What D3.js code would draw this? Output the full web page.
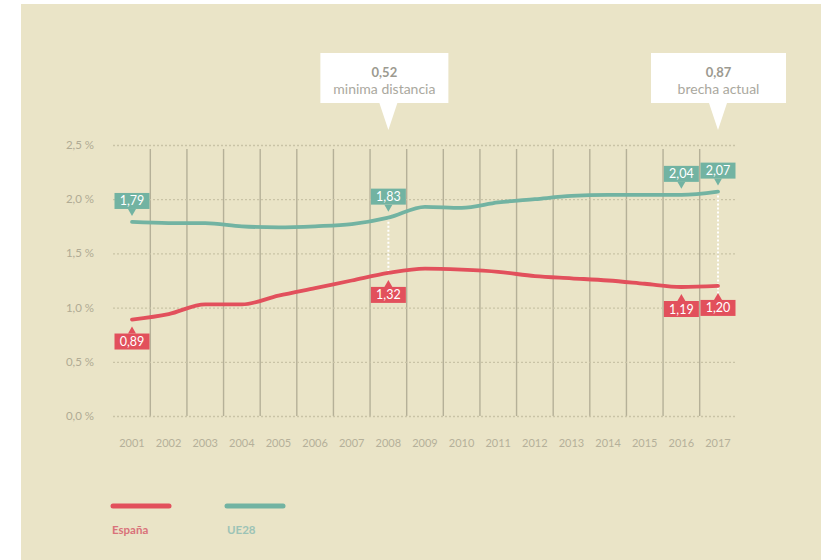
<!DOCTYPE html>
<html><head><meta charset="utf-8">
<script src="https://cdn.jsdelivr.net/npm/d3@7"></script>
<style>html,body{margin:0;padding:0;background:#fff;}svg{display:block;}</style>
</head><body>
<svg id="c" width="821" height="560"></svg>
<script>
const years = [2001,2002,2003,2004,2005,2006,2007,2008,2009,2010,2011,2012,2013,2014,2015,2016,2017];
const espana = [0.89,0.94,1.03,1.03,1.11,1.18,1.25,1.32,1.36,1.35,1.33,1.29,1.27,1.25,1.22,1.19,1.20];
const ue28 = [1.79,1.78,1.78,1.75,1.74,1.75,1.77,1.83,1.93,1.92,1.97,2.00,2.03,2.04,2.04,2.04,2.07];
const yTicks = [0,0.5,1.0,1.5,2.0,2.5];
const labelYears = [2001,2008,2016,2017];
const callouts = [{year:2008, value:"0,52", text:"minima distancia"},{year:2017, value:"0,87", text:"brecha actual"}];
const gapYears = [2008,2017];
const legendItems = ["España","UE28"];

const RED = "#e2505c", TEAL = "#72b3a2";
const svg = d3.select("#c");
svg.append("rect").attr("x",21).attr("y",4).attr("width",800).attr("height",556).attr("fill","#eae4c7");

const x = d3.scalePoint().domain(years).range([132,718]);
const y = d3.scaleLinear().domain([0,2.5]).range([416,145]);
const fmt = v => d3.format(".2f")(v).replace(".", ",");
const font = "Lato, 'Open Sans', sans-serif";

// vertical separators between years
const step = x.step();
svg.append("g").selectAll("line").data(years.slice(0,-1)).join("line")
  .attr("x1", d=>x(d)+step/2).attr("x2", d=>x(d)+step/2)
  .attr("y1", y(2.5)+4).attr("y2", y(0))
  .attr("stroke","#b5b098").attr("stroke-width",1.4);

// horizontal gridlines
const yAxis = svg.append("g").attr("transform","translate(113,0)")
  .call(d3.axisRight(y).tickValues(yTicks).tickSize(624).tickFormat(""));
yAxis.select(".domain").remove();
yAxis.selectAll("line").attr("stroke","#c9c3a6").attr("stroke-width",1.3).attr("stroke-dasharray","2,2");

// y labels
svg.append("g").selectAll("text").data(yTicks).join("text")
  .attr("x",94).attr("y",d=>y(d)).attr("dy","0.35em").attr("text-anchor","end")
  .attr("font-family",font).attr("font-size",11.5).attr("fill","#b0ab94")
  .text(d=>d3.format(".1f")(d).replace(".",",")+" %");

// x labels
svg.append("g").selectAll("text").data(years).join("text")
  .attr("x",d=>x(d)).attr("y",443).attr("dy","0.35em").attr("text-anchor","middle")
  .attr("font-family",font).attr("font-size",11).attr("fill","#b5b09a")
  .text(d=>d);

// dotted gap lines
gapYears.forEach(yr=>{
  const i = years.indexOf(yr);
  svg.append("line").attr("x1",x(yr)).attr("x2",x(yr))
    .attr("y1",y(ue28[i])).attr("y2",y(espana[i])+(yr===2017?8:2))
    .attr("stroke","#fff").attr("stroke-width",2).attr("stroke-dasharray","2,2");
});

// lines
const line = d3.line().x((d,i)=>x(years[i])).y(d=>y(d)).curve(d3.curveMonotoneX);
svg.append("path").datum(ue28).attr("d",line).attr("fill","none").attr("stroke",TEAL).attr("stroke-width",3.8).attr("stroke-linecap","round");
svg.append("path").datum(espana).attr("d",line).attr("fill","none").attr("stroke",RED).attr("stroke-width",3.8).attr("stroke-linecap","round");

// value labels
function label(cx, cy, val, color, above){
  const w=35, h=16;
  const g = svg.append("g");
  const tip = cy + (above? -6 : 7);
  const by = above ? cy - 12 - h - 1 : cy + 14;
  g.append("rect").attr("x",cx-w/2).attr("y",by).attr("width",w).attr("height",h).attr("fill",color);
  const base = above ? by+h : by;
  g.append("path").attr("d",`M${cx-4},${base} L${cx},${tip} L${cx+4},${base} Z`).attr("fill",color);
  g.append("text").attr("x",cx).attr("y",by+h/2).attr("dy","0.36em").attr("text-anchor","middle")
    .attr("font-family",font).attr("font-size",12.5).attr("fill","#fff").text(fmt(val));
}
labelYears.forEach(yr=>{
  const i = years.indexOf(yr);
  label(x(yr), y(ue28[i]), ue28[i], TEAL, true);
  label(x(yr), y(espana[i]), espana[i], RED, false);
});

// callouts
callouts.forEach(c=>{
  const cx = x(c.year);
  const w = c.year===2008?128:135;
  const g = svg.append("g");
  const left = c.year===2008 ? cx-68 : cx-67;
  g.append("path").attr("d",`M${left},53 H${left+w} V103 H${cx+9} L${cx},130 L${cx-9},103 H${left} Z`).attr("fill","#fff");
  g.append("text").attr("x",left+w/2).attr("y",72).attr("dy","0.35em").attr("text-anchor","middle")
    .attr("font-family",font).attr("font-weight","bold").attr("font-size",13).attr("fill","#9c9a90").text(c.value);
  g.append("text").attr("x",left+w/2).attr("y",89).attr("dy","0.35em").attr("text-anchor","middle")
    .attr("font-family",font).attr("font-size",14).attr("fill","#aaa89e").text(c.text);
});

// legend
const lg = svg.append("g");
const lx = [113,227], lc=[RED,TEAL], tc=["#d9727a","#9cc3b6"];
legendItems.forEach((t,i)=>{
  lg.append("line").attr("x1",lx[i]).attr("x2",lx[i]+56).attr("y1",506).attr("y2",506)
    .attr("stroke",lc[i]).attr("stroke-width",5).attr("stroke-linecap","round");
  lg.append("text").attr("x",lx[i]+ (i===0?-1:0)).attr("y",530).attr("dy","0.35em")
    .attr("font-family",font).attr("font-weight","bold").attr("font-size",11.5).attr("fill",tc[i]).text(t);
});
</script>
</body></html>
